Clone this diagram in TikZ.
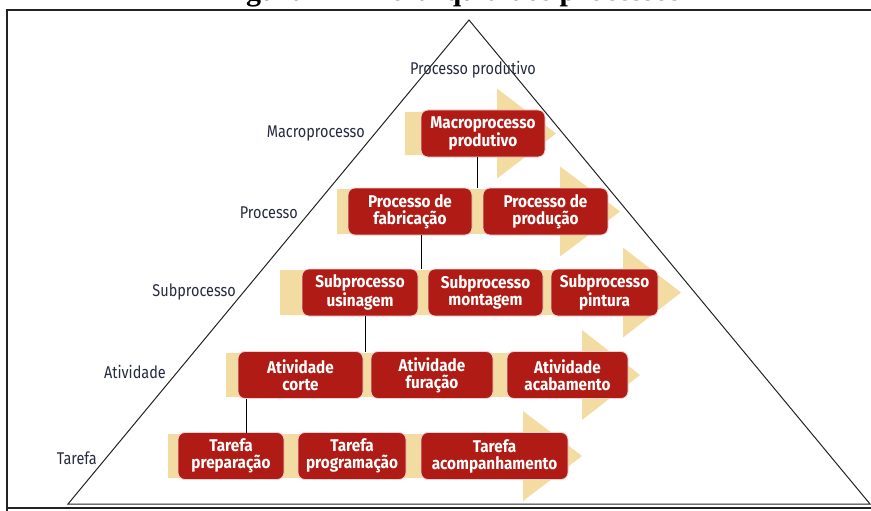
\documentclass[tikz,border=0pt]{standalone}
\usepackage{fontspec}
\setmainfont{Fira Sans}[FakeStretch=0.85]
\newfontfamily\boxfont{Fira Sans}[FakeStretch=0.9]
\newfontfamily\titlefont{Liberation Serif}
\definecolor{boxred}{HTML}{B01C15}
\definecolor{bandcol}{HTML}{F3DCA2}
\definecolor{lblcol}{HTML}{262A40}
\definecolor{linecol}{HTML}{222222}
\newcommand{\levelband}[6]{%
  \fill[bandfill] (#1,#2) -- (#4,#2) -- (#4,#5-45) -- (#6,#5) -- (#4,#5+45) -- (#4,#3) -- (#1,#3) -- cycle;}
\begin{document}
\begin{tikzpicture}[x=1pt,y=-1pt,
  proc/.style={rectangle, rounded corners=7pt, fill=boxred, draw=white!80!boxred,
    line width=0.8pt, text=white, align=center, inner sep=0pt, minimum height=47pt,
    font=\boxfont\bfseries\fontsize{17}{17}\selectfont},
  lvl/.style={text=lblcol, inner sep=0pt, anchor=base east,
    font=\fontsize{17}{17}\selectfont},
  link/.style={draw=black, line width=0.9pt},
  bandfill/.style={fill=bandcol, draw=none},
  frame/.style={draw=linecol, line width=1.1pt}]
\useasboundingbox (0,0) rectangle (871,511);
% cropped title (only the lower edge of its letters shows)
\begin{scope}
  \clip (0,0) rectangle (871,8.5);
  \node[inner sep=0pt, anchor=base east, font=\titlefont\bfseries\fontsize{30}{30}\selectfont] (title) at (681,1) {Figura 1 – Hierarquia dos processos};
\end{scope}
% frame
\draw[frame] (7,511) -- (7,10) -- (871,10);
\draw[frame] (7,508) -- (871,508);
% pyramid
\coordinate (apex) at (469,20);
\coordinate (bl) at (68,504);
\coordinate (br) at (870,504);
\draw[draw=linecol, line width=1pt] (bl) -- (apex) -- (br) -- cycle;
% bands with arrow heads
\levelband{405}{112}{155}{497}{133.5}{556}
\levelband{337}{189}{234}{560}{211.5}{620}
\levelband{280}{270}{315}{623}{292.5}{681}
\levelband{226}{353}{397}{582}{375}{640}
\levelband{168}{434}{478}{523}{456}{582}
% level labels
\node[text=lblcol, inner sep=0pt, anchor=base, font=\fontsize{17}{17}\selectfont] (lp) at (473,75) {Processo produtivo};
\node[lvl] (l1) at (365,138) {Macroprocesso};
\node[lvl] (l2) at (298,218) {Processo};
\node[lvl] (l3) at (236,296) {Subprocesso};
\node[lvl] (l4) at (166,378) {Atividade};
\node[lvl] (l5) at (97,464) {Tarefa};
% boxes
\node[proc, minimum width=124pt] (m1) at (483,133.5) {Macroprocesso\\produtivo};
\node[proc, minimum width=124pt] (p1) at (410,211.5) {Processo de\\fabricação};
\node[proc, minimum width=125pt] (p2) at (545.5,211.5) {Processo de\\produção};
\node[proc, minimum width=116pt] (s1) at (360,292.5) {Subprocesso\\usinagem};
\node[proc, minimum width=115pt] (s2) at (485.5,292.5) {Subprocesso\\montagem};
\node[proc, minimum width=107pt] (s3) at (604.5,292.5) {Subprocesso\\pintura};
\node[proc, minimum width=125pt] (a1) at (300.5,375) {Atividade\\corte};
\node[proc, minimum width=122pt] (a2) at (432,375) {Atividade\\furação};
\node[proc, minimum width=121pt] (a3) at (567.5,375) {Atividade\\acabamento};
\node[proc, minimum width=106pt] (t1) at (231,456) {Tarefa\\preparação};
\node[proc, minimum width=108pt] (t2) at (352,456) {Tarefa\\programação};
\node[proc, minimum width=147pt] (t3) at (494.5,456) {Tarefa\\acompanhamento};
% connectors
\coordinate (b2) at (477,188);
\coordinate (b3) at (421,269);
\coordinate (b4) at (365,352);
\coordinate (b5) at (246,433);
\draw[link] (m1.south -| b2) -- (b2);
\draw[link] (p1.south -| b3) -- (b3);
\draw[link] (s1.south -| b4) -- (b4);
\draw[link] (a1.south -| b5) -- (b5);
\end{tikzpicture}
\end{document}
